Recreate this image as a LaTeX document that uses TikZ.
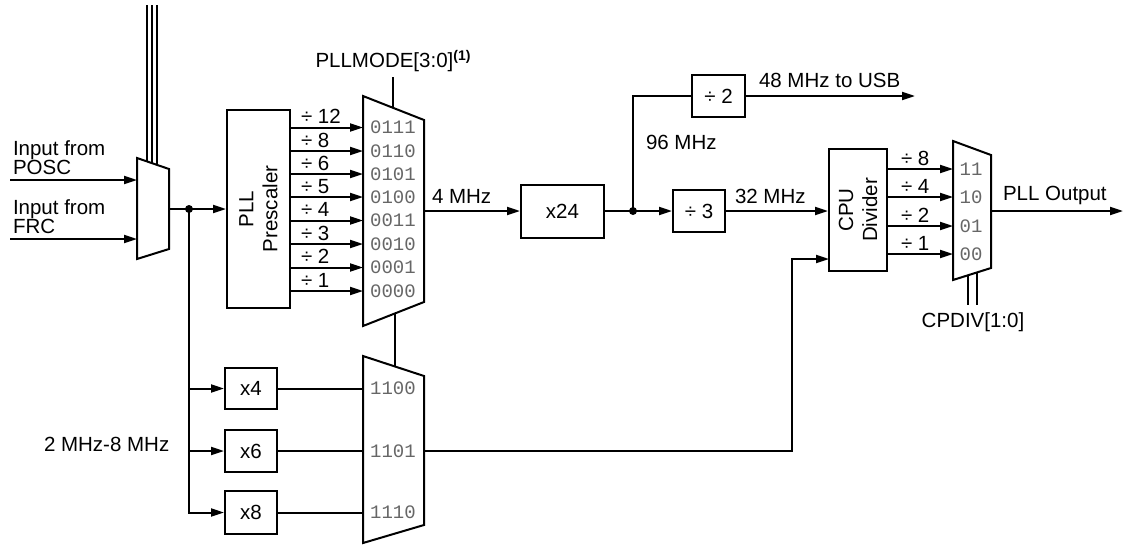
\documentclass[tikz,border=0pt]{standalone}
\usepackage{fontspec}
\setmainfont{Liberation Sans}
\setmonofont{Liberation Mono}
\usetikzlibrary{arrows.meta}
\begin{document}
\begin{tikzpicture}[x=1pt,y=-1pt,
  line width=2pt,
  every node/.style={font=\fontsize{20.5}{19}\selectfont, inner sep=0pt},
  box/.style={draw, line width=2pt, inner sep=0pt},
  arr/.style={-{Triangle[length=13pt,width=8pt]}},
  mux/.style={draw, line width=2pt, line join=miter},
  sel/.style={font=\ttfamily\fontsize{19}{19}\selectfont, text=black!60},
  lbl/.style={anchor=base west},
]
\path[use as bounding box] (0,0) rectangle (1128,544);

% ---------- input multiplexer ----------
\draw[mux] (137,158) -- (169,169) -- (169,249) -- (137,259) -- cycle;
\coordinate (m1in1) at (137,180);
\coordinate (m1in2) at (137,239);
\coordinate (m1out) at (169,209);
\coordinate (posc) at (10,180);
\coordinate (frc) at (10,239);
\draw[arr] (posc) -- (m1in1);
\draw[arr] (frc) -- (m1in2);
\node[anchor=north west, align=left] (tposc) at (12,140) {Input from\\POSC};
\node[anchor=north west, align=left] (tfrc) at (12,199) {Input from\\FRC};
\foreach \x/\yy in {146.7/161.3, 151.7/163.0, 156.7/164.7}{
  \draw (\x,5) -- (\x,\yy);
}

% ---------- PLL prescaler ----------
\node[box, minimum width=63pt, minimum height=198pt] (pre) at (258.5,209) {};
\node[rotate=90, align=center, font=\fontsize{20.5}{24}\selectfont] (pretext) at (pre.center) {PLL\\Prescaler};
\coordinate (dot1) at (189,209);
\draw (m1out) -- (dot1);
\draw[arr] (dot1) -- (pre.west);
\fill (dot1) circle (4pt);

% ---------- PLLMODE multiplexer ----------
\draw[mux] (363,96) -- (424,120) -- (424,302) -- (363,326) -- cycle;
\foreach \y/\d/\c [count=\i] in {127.5/÷ 12/0111, 151/÷ 8/0110, 174/÷ 6/0101, 197/÷ 5/0100,
    220.5/÷ 4/0011, 244/÷ 3/0010, 267.5/÷ 2/0001, 291/÷ 1/0000}{
  \coordinate (pin\i) at (363,\y);
  \draw[arr] (pre.east |- pin\i) -- (pin\i);
  \node[lbl] at (300,\y-4) {\d};
  \node[sel] at (393,\y) {\c};
}
\coordinate (pmtop) at (393,77);
\coordinate (pmmux) at (393,107.8);
\draw (pmtop) -- (pmmux);
\node[anchor=base] (pllmode) at (393,67) {PLLMODE[3:0]\raisebox{7pt}{\fontsize{14}{14}\selectfont\bfseries (1)}};

% ---------- x24 and dividers ----------
\node[box, minimum width=83pt, minimum height=53pt] (x24) at (562.5,211) {x24};
\coordinate (m2out) at (424,211);
\draw[arr] (m2out) -- (x24.west);
\node[lbl] at (431,203) {4 MHz};

\node[box, minimum width=53pt, minimum height=42pt] (div2) at (718.5,96) {÷ 2};
\node[box, minimum width=52pt, minimum height=42pt] (div3) at (699,211) {÷ 3};
\coordinate (dot2) at (633,211);
\draw (x24.east) -- (dot2);
\draw[arr] (dot2) -- (div3.west);
\draw (dot2) |- (div2.west);
\fill (dot2) circle (4pt);
\coordinate (usb) at (915,96);
\draw[arr] (div2.east) -- (usb);
\node[lbl] at (758,87) {48 MHz to USB};
\node[lbl] at (645,149) {96 MHz};
\node[lbl] at (734,203) {32 MHz};

% ---------- CPU divider ----------
\node[box, minimum width=58pt, minimum height=122pt] (cpu) at (858,210) {};
\node[rotate=90, align=center, font=\fontsize{20.5}{24}\selectfont] (cputext) at (cpu.center) {CPU\\Divider};
\draw[arr] (div3.east) -- (cpu.west |- div3.east);

\draw[mux] (953,141) -- (991,155) -- (991,268) -- (953,280) -- cycle;
\foreach \y/\d/\c [count=\i] in {169/÷ 8/11, 197/÷ 4/10, 226/÷ 2/01, 254/÷ 1/00}{
  \coordinate (cin\i) at (953,\y);
  \draw[arr] (cpu.east |- cin\i) -- (cin\i);
  \node[lbl] at (900,\y-4) {\d};
  \node[sel] at (971,\y) {\c};
}
\coordinate (m4out) at (991,211);
\coordinate (pllout) at (1123,211);
\draw[arr] (m4out) -- (pllout);
\node[lbl] at (1002,200) {PLL Output};
\draw (968,275.3) -- (968,305);
\draw (977,272.4) -- (977,305);
\node[anchor=base] (cpdiv) at (973,327) {CPDIV[1:0]};

% ---------- multipliers ----------
\node[box, minimum width=52pt, minimum height=41pt] (x4) at (251,388.5) {x4};
\node[box, minimum width=52pt, minimum height=42pt] (x6) at (251,451) {x6};
\node[box, minimum width=52pt, minimum height=43pt] (x8) at (251,512.5) {x8};
\draw[arr] (dot1) |- (x8.west);
\draw[arr] (dot1 |- x4.west) -- (x4.west);
\draw[arr] (dot1 |- x6.west) -- (x6.west);
\node[lbl] at (43,451) {2 MHz-8 MHz};

\draw[mux] (363,356) -- (424,376) -- (424,525) -- (363,543) -- cycle;
\foreach \n/\c in {x4/1100, x6/1101, x8/1110}{
  \draw (\n.east) -- (\n.east -| 363,0);
  \node[sel] at (393,0 |- \n.east) {\c};
}
\draw (395,313.4) -- (395,366.5);
\coordinate (m3out) at (424,451);
\coordinate (turn) at (792,451);
\coordinate (cpuin2) at (829,259);
\draw[arr] (m3out) -- (turn) |- (cpuin2);
\end{tikzpicture}
\end{document}
